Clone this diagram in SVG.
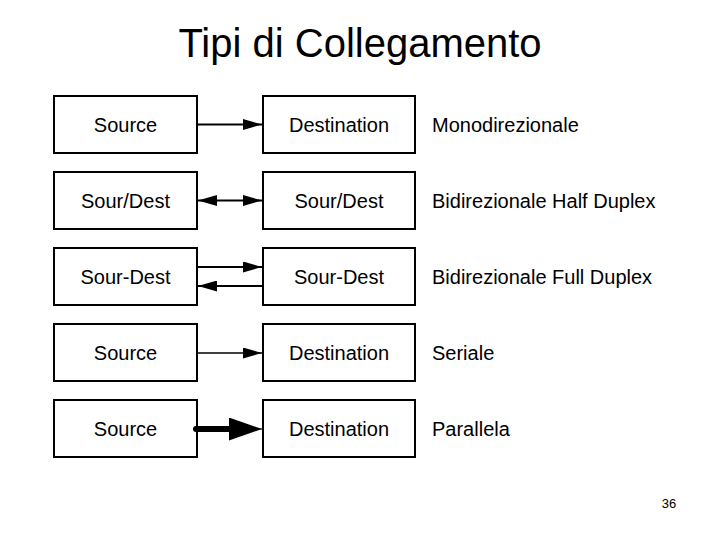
<svg xmlns="http://www.w3.org/2000/svg" width="720" height="540" viewBox="0 0 720 540">
<style>
.box{fill:#fff;stroke:#000;stroke-width:2}
.lbl{font-family:"Liberation Sans",Arial,sans-serif;font-size:20px;fill:#000}
.c{text-anchor:middle}
.ln{stroke:#000;stroke-width:2;fill:none}
</style>
<defs>
<marker id="ah" markerUnits="userSpaceOnUse" markerWidth="19" markerHeight="11" refX="19" refY="5.5" orient="auto-start-reverse"><path d="M0,0 L19,5.5 L0,11 z" fill="#000"/></marker>
<marker id="ahb" markerUnits="userSpaceOnUse" markerWidth="33" markerHeight="23" refX="33" refY="11.5" orient="auto"><path d="M0,0 L33,11.5 L0,23 z" fill="#000"/></marker>
</defs>
<rect width="720" height="540" fill="#fff"/>
<text x="360" y="57" class="lbl c" style="font-size:40px">Tipi di Collegamento</text>
<g id="r1s"><rect class="box" x="54" y="96" width="143" height="57"/><text class="lbl c" x="125.5" y="131.5">Source</text></g>
<g id="r1d"><rect class="box" x="263" y="96" width="152" height="57"/><text class="lbl c" x="339" y="131.5">Destination</text></g>
<g id="r2s"><rect class="box" x="54" y="172" width="143" height="57"/><text class="lbl c" x="125.5" y="207.5">Sour/Dest</text></g>
<g id="r2d"><rect class="box" x="263" y="172" width="152" height="57"/><text class="lbl c" x="339" y="207.5">Sour/Dest</text></g>
<g id="r3s"><rect class="box" x="54" y="248" width="143" height="57"/><text class="lbl c" x="125.5" y="283.5">Sour-Dest</text></g>
<g id="r3d"><rect class="box" x="263" y="248" width="152" height="57"/><text class="lbl c" x="339" y="283.5">Sour-Dest</text></g>
<g id="r4s"><rect class="box" x="54" y="324" width="143" height="57"/><text class="lbl c" x="125.5" y="359.5">Source</text></g>
<g id="r4d"><rect class="box" x="263" y="324" width="152" height="57"/><text class="lbl c" x="339" y="359.5">Destination</text></g>
<g id="r5s"><rect class="box" x="54" y="400" width="143" height="57"/><text class="lbl c" x="125.5" y="435.5">Source</text></g>
<g id="r5d"><rect class="box" x="263" y="400" width="152" height="57"/><text class="lbl c" x="339" y="435.5">Destination</text></g>
<g id="connectors">
<line class="ln" x1="198" y1="124.5" x2="262" y2="124.5" marker-end="url(#ah)"/>
<line class="ln" x1="198" y1="200.5" x2="262" y2="200.5" marker-start="url(#ah)" marker-end="url(#ah)"/>
<line class="ln" x1="198" y1="267" x2="262" y2="267" marker-end="url(#ah)"/>
<line class="ln" x1="262" y1="286" x2="198" y2="286" marker-end="url(#ah)"/>
<line class="ln" style="stroke-width:1.5" x1="198" y1="353" x2="262" y2="353" marker-end="url(#ah)"/>
<line class="ln" style="stroke-width:6;stroke-linecap:round" x1="196" y1="429" x2="240" y2="429"/>
<line class="ln" style="stroke-width:1" x1="230" y1="429" x2="262" y2="429" marker-end="url(#ahb)"/>
</g>
<g id="labels">
<text class="lbl" x="432" y="131.5">Monodirezionale</text>
<text class="lbl" x="432" y="207.5">Bidirezionale Half Duplex</text>
<text class="lbl" x="432" y="283.5">Bidirezionale Full Duplex</text>
<text class="lbl" x="432" y="359.5">Seriale</text>
<text class="lbl" x="432" y="435.5">Parallela</text>
</g>
<text x="669" y="508" class="lbl c" style="font-size:13px">36</text>
</svg>
